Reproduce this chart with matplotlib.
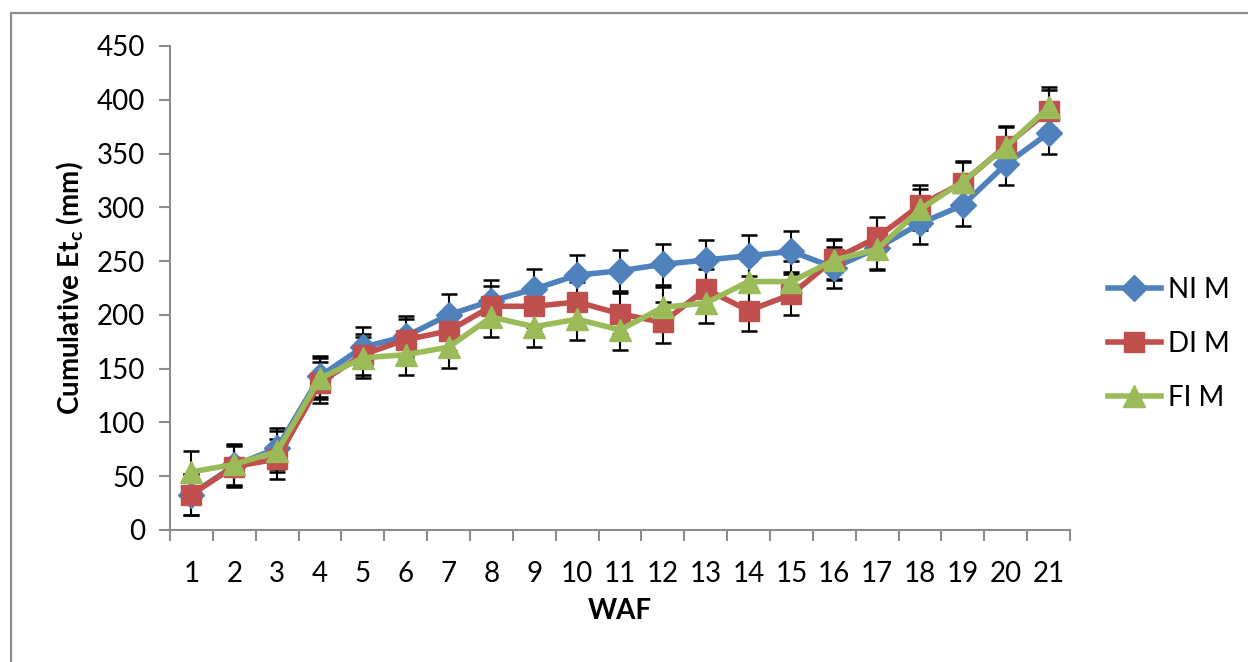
import numpy as np
import matplotlib
matplotlib.use('Agg')
import matplotlib.pyplot as plt
from matplotlib.patches import Rectangle

# data
waf = np.arange(1, 22)
ni_m = [33, 60, 76, 143, 170, 180, 200, 213, 224, 237, 241, 247, 251, 255, 259, 244, 262, 285, 302, 340, 369]
di_m = [33, 59, 66, 137, 163, 177, 185, 208, 208, 212, 201, 193, 224, 204, 219, 252, 272, 302, 323, 357, 390]
fi_m = [54, 61, 73, 141, 160, 163, 170, 198, 189, 196, 186, 207, 211, 231, 231, 251, 261, 298, 324, 356, 393]
err = 19
y_ticks = np.arange(0, 451, 50)

plt.rcParams['font.family'] = ['Lato', 'DejaVu Sans']
plt.rcParams['mathtext.fontset'] = 'custom'
plt.rcParams['mathtext.rm'] = 'Lato'
plt.rcParams['mathtext.bf'] = 'Lato:bold'

fig = plt.figure(figsize=(12.48, 6.62), dpi=100)
ax = fig.add_axes([170/1248, 1 - 530/662, 900/1248, 484/662])

# outer chart frame
fig.patches.append(Rectangle((11/1248, -0.05), 1.2, 1 - 13/662 + 0.05,
                             transform=fig.transFigure, fill=False,
                             edgecolor='#8c8c8c', linewidth=1.6))

series = [
  (ni_m, 'NI M', '#4F81BD', 'D', 13),
  (di_m, 'DI M', '#C0504D', 's', 15),
  (fi_m, 'FI M', '#9BBB59', '^', 16),
]
for vals, name, col, mk, ms in series:
  ax.errorbar(waf, vals, yerr=err, fmt='none', ecolor='black',
              elinewidth=1.5, capsize=6, capthick=1.8, zorder=2)
  ax.plot(waf, vals, color=col, linewidth=4, marker=mk, markersize=ms,
          markeredgecolor=col, label=name, zorder=3)

ax.set_xlim(0.5, 21.5)
ax.set_ylim(0, 450)
ax.set_yticks(y_ticks)
ax.set_xticks(waf)
ax.set_xticks(np.arange(0.5, 22, 1), minor=True)
ax.tick_params(axis='x', which='major', length=0, pad=22, labelsize=20)
ax.tick_params(axis='x', which='minor', length=8, width=1.5, color='#8c8c8c', direction='out')
ax.tick_params(axis='y', length=8, width=1.5, color='#8c8c8c', pad=10, labelsize=20)
for s in ['top', 'right']:
  ax.spines[s].set_visible(False)
for s in ['left', 'bottom']:
  ax.spines[s].set_color('#8c8c8c')
  ax.spines[s].set_linewidth(1.5)

ax.set_xlabel('WAF', fontsize=20, fontweight='bold', labelpad=8)
ax.set_ylabel(r'Cumulative Et$_\mathbf{c}$ (mm)', fontsize=20, fontweight='bold', labelpad=8)

fig.legend(loc='center left', bbox_to_anchor=(1108/1248, 1 - 344/662), frameon=False,
           fontsize=20, labelspacing=1.0, handlelength=1.9, handletextpad=0.25,
           borderpad=0, borderaxespad=0)

fig.savefig('out.png', dpi=100)
